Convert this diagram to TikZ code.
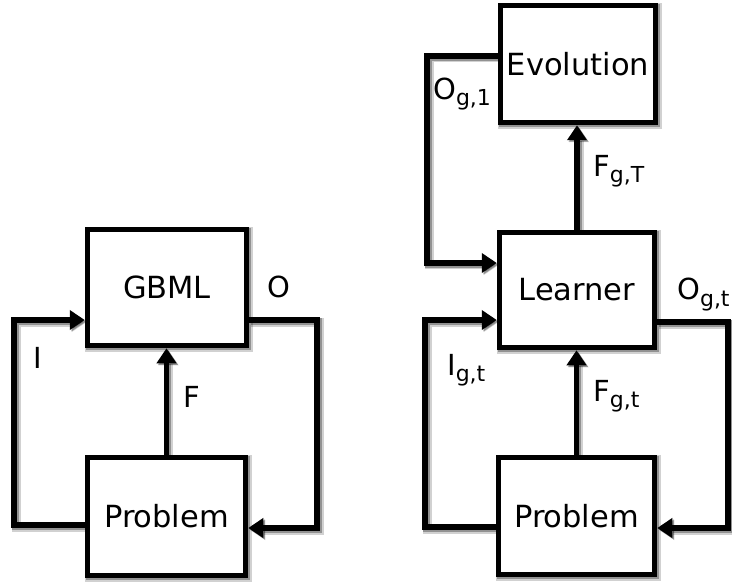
\documentclass[tikz,border=0pt]{standalone}
\usepackage{fontspec}
\setmainfont{DejaVu Sans}
\usetikzlibrary{arrows.meta}
% label with a lowered, smaller index
\newcommand{\lbsub}[2]{#1\raisebox{-6pt}{\fontsize{22pt}{22pt}\selectfont #2}}

\begin{document}
\begin{tikzpicture}[x=1pt,y=-1pt,
  shd/.style={preaction={draw=black, opacity=0.18, line width=9pt,
      transform canvas={xshift=2pt,yshift=-2pt}},
    preaction={draw=black, opacity=0.3, line width=6.5pt,
      transform canvas={xshift=1.5pt,yshift=-1.5pt}}},
  blk/.style={draw, line width=5.5pt, fill=white, inner sep=0pt, shd,
      font=\fontsize{30.5pt}{32pt}\selectfont},
  flow/.style={line width=5.5pt, shd, -{Triangle[length=15pt,width=19pt]}},
  lbl/.style={inner sep=0pt, anchor=base west, font=\fontsize{29pt}{31pt}\selectfont}]
\useasboundingbox (0,0) rectangle (732,583);

% ---- left system ----
\node[blk, minimum width=159pt, minimum height=116pt] (g) at (167,287.5) {GBML};
\node[blk, minimum width=158pt, minimum height=118pt] (p1) at (166.5,516.5) {Problem};

\coordinate (cL1) at (14,525);
\coordinate (cL2) at (14,320);
\coordinate (cR1) at (317,320);
\coordinate (cR2) at (317,528);

\draw[flow] (p1.west |- cL1) -- (cL1) -- (cL2) -- (g.west |- cL2);
\draw[flow] (g.east |- cR1) -- (cR1) -- (cR2) -- (p1.east |- cR2);
\draw[flow] (p1.north) -- (p1.north |- g.south);

\node[lbl] (lo) at (267,298) {O};
\node[lbl] (li) at (33,368) {I};
\node[lbl] (lf) at (183,407) {F};

% ---- right system ----
\node[blk, minimum width=155pt, minimum height=117pt] (ev) at (578,64) {Evolution};
\node[blk, minimum width=155pt, minimum height=115pt] (ln) at (577,290) {Learner};
\node[blk, minimum width=156pt, minimum height=117pt] (p2) at (576.5,516) {Problem};

\coordinate (e1) at (427,56);
\coordinate (e2) at (427,263);
\coordinate (r1) at (425,527);
\coordinate (r2) at (425,320);
\coordinate (r3) at (728,322);
\coordinate (r4) at (728,528);

\draw[flow] (ev.west |- e1) -- (e1) -- (e2) -- (ln.west |- e2);
\draw[flow] (ln.north) -- (ln.north |- ev.south);
\draw[flow] (p2.west |- r1) -- (r1) -- (r2) -- (ln.west |- r2);
\draw[flow] (ln.east |- r3) -- (r3) -- (r4) -- (p2.east |- r4);
\draw[flow] (p2.north) -- (p2.north |- ln.south);

\node[lbl] (o1) at (433,100) {\lbsub{O}{g,1}};
\node[lbl] (fT) at (593,177) {\lbsub{F}{g,T}};
\node[lbl] (it) at (447,375) {\lbsub{I}{g,t}};
\node[lbl] (ft) at (593,401) {\lbsub{F}{g,t}};
\node[lbl] (ot) at (677,300) {\lbsub{O}{g,t}};
\end{tikzpicture}
\end{document}
